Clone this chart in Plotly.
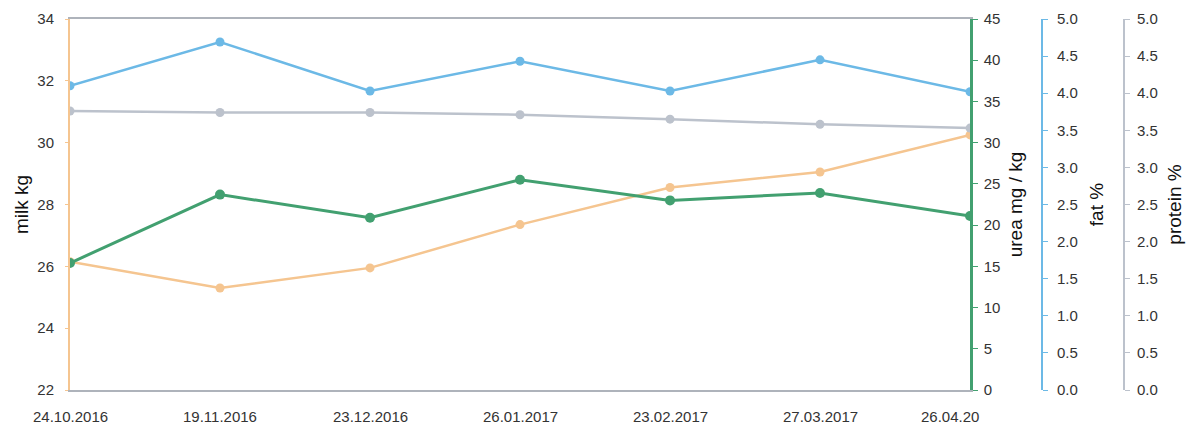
import plotly.graph_objects as go

dates = ["24.10.2016", "19.11.2016", "23.12.2016", "26.01.2017", "23.02.2017", "27.03.2017", "26.04.2017"]
date_labels = ["24.10.2016", "19.11.2016", "23.12.2016", "26.01.2017", "23.02.2017", "27.03.2017", "26.04.20"]
milk_kg = [26.15, 25.3, 25.95, 27.35, 28.55, 29.05, 30.25]
urea_mg_kg = [15.4, 23.7, 20.9, 25.5, 23.0, 23.9, 21.1]
fat_pct = [4.10, 4.69, 4.03, 4.43, 4.03, 4.45, 4.02]
protein_pct = [3.76, 3.74, 3.74, 3.71, 3.65, 3.58, 3.53]

ORANGE = "#f5c590"
GREEN = "#42a070"
BLUE = "#6cb9e6"
GRAY = "#bcc2cc"
TXT = "#333333"
FONT = "Liberation Sans, Arial, sans-serif"

fig = go.Figure()
fig.add_trace(go.Scatter(x=dates, y=protein_pct, yaxis="y4", mode="lines+markers",
                         line=dict(color=GRAY, width=2.5), marker=dict(size=9, color=GRAY), name="protein %"))
fig.add_trace(go.Scatter(x=dates, y=fat_pct, yaxis="y3", mode="lines+markers",
                         line=dict(color=BLUE, width=2.5), marker=dict(size=9, color=BLUE), name="fat %"))
fig.add_trace(go.Scatter(x=dates, y=milk_kg, yaxis="y", mode="lines+markers",
                         line=dict(color=ORANGE, width=2.5), marker=dict(size=9, color=ORANGE), name="milk kg"))
fig.add_trace(go.Scatter(x=dates, y=urea_mg_kg, yaxis="y2", mode="lines+markers",
                         line=dict(color=GREEN, width=3), marker=dict(size=10, color=GREEN), name="urea mg / kg"))

tickfont = dict(family=FONT, size=15, color=TXT)
titlefont = dict(family=FONT, size=19, color="#111111")

# x labels: last one is partly hidden in the original and sits a bit to the left
label_shift = [0, 0, 0, 0, 0, 0, -20]
for d, lab, s in zip(dates, date_labels, label_shift):
    fig.add_annotation(x=d, xref="x", y=0, yref="paper", yanchor="top", yshift=-16, xshift=s,
                       text=lab, showarrow=False, font=tickfont)

AM = "left+right"
fig.update_layout(
    width=1194, height=425,
    margin=dict(l=62, r=40, t=11, b=43),
    paper_bgcolor="white", plot_bgcolor="white",
    showlegend=False,
    font=dict(family=FONT, color=TXT),
    xaxis=dict(domain=[0, 0.8242], type="category", range=[0, 6], showgrid=False, zeroline=False,
               showline=True, linecolor="#aeb3bb", linewidth=1.5, mirror=True, ticks="",
               showticklabels=False, automargin=False),
    yaxis=dict(range=[22, 34], dtick=2, showgrid=False, zeroline=False, showline=True, linecolor=ORANGE,
               linewidth=2, ticks="outside", ticklen=3, tickcolor=ORANGE, tickfont=tickfont,
               ticklabelstandoff=8, automargin=AM,
               title=dict(text="milk kg", font=titlefont, standoff=4)),
    yaxis2=dict(range=[0, 45], dtick=5, overlaying="y", side="right", anchor="x", showgrid=False,
                zeroline=False, showline=True, linecolor=GREEN, linewidth=2.5, ticks="outside", ticklen=5,
                tickcolor=GREEN, tickfont=tickfont, automargin=AM, ticklabelstandoff=3,
                title=dict(text="urea mg / kg", font=titlefont, standoff=10)),
    yaxis3=dict(range=[0, 5], dtick=0.5, tickformat=".1f", overlaying="y", side="right", anchor="free",
                position=0.8901, showgrid=False, zeroline=False, showline=True, linecolor=BLUE, linewidth=2,
                ticks="outside", ticklen=5, tickcolor=BLUE, tickfont=tickfont, ticklabelstandoff=6,
                automargin=AM,
                title=dict(text="fat %", font=titlefont, standoff=12)),
    yaxis4=dict(range=[0, 5], dtick=0.5, tickformat=".1f", overlaying="y", side="right", anchor="free",
                position=0.9652, showgrid=False, zeroline=False, showline=True, linecolor=GRAY, linewidth=2,
                ticks="outside", ticklen=5, tickcolor=GRAY, tickfont=tickfont, ticklabelstandoff=4,
                automargin=AM,
                title=dict(text="protein %", font=titlefont, standoff=10)),
)

fig.write_html("out.html")
